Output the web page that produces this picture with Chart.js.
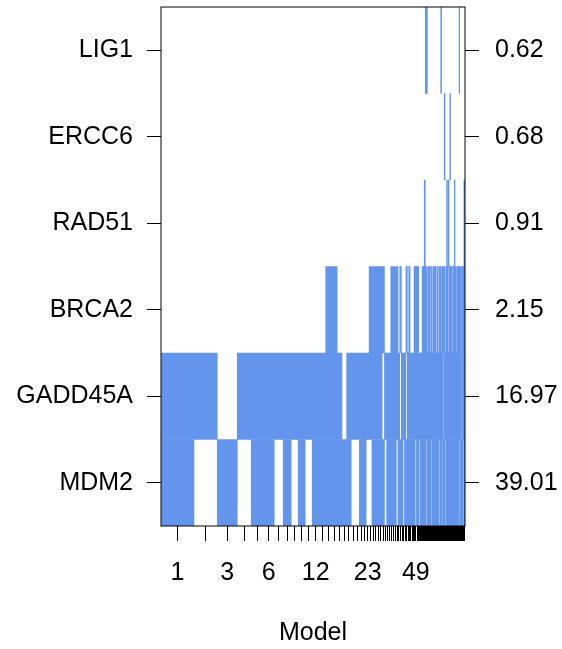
<!DOCTYPE html>
<html>
<head>
<meta charset="utf-8">
<script src="https://cdn.jsdelivr.net/npm/chart.js@4.4.1/dist/chart.umd.min.js"></script>
<style>
  html, body { margin: 0; padding: 0; background: #fff; }
  #wrap { width: 562px; height: 649px; position: relative; }
</style>
</head>
<body>
<div id="wrap"><canvas id="bmaChart"></canvas></div>
<script>
// variables, top to bottom, and their inclusion probability (%)
const genes = ["LIG1", "ERCC6", "RAD51", "BRCA2", "GADD45A", "MDM2"];
const inclusionPct = ["0.62", "0.68", "0.91", "2.15", "16.97", "39.01"];

// width of each model column (models 1..107, best first)
const modelWeights = [
  33, 23.3, 20, 14, 12, 11, 9, 8, 7, 7,
  7, 7, 6.5, 6, 5.5, 4.8, 4.7, 4.5, 4.5, 3.7,
  3.5, 3.3, 3.0, 2.8, 2.7, 2.6, 2.5, 2.4, 2.3, 2.2,
  2.1, 2.0, 1.9, 1.9, 1.8, 1.7, 1.7, 1.6, 1.6, 1.5,
  1.5, 1.4, 1.4, 1.4, 1.3, 1.3, 1.3, 1.2, 1.2, 1.16,
  1.14, 1.13, 1.11, 1.1, 1.09, 1.07, 1.06, 1.04, 1.03, 1.02,
  1.01, 1.0, 0.99, 0.98, 0.97, 0.96, 0.95, 0.94, 0.93, 0.92,
  0.91, 0.9, 0.89, 0.88, 0.87, 0.86, 0.85, 0.84, 0.83, 0.82,
  0.81, 0.8, 0.79, 0.78, 0.77, 0.76, 0.75, 0.74, 0.73, 0.72,
  0.71, 0.7, 0.69, 0.68, 0.67, 0.66, 0.65, 0.64, 0.63, 0.62,
  0.61, 0.6, 0.59, 0.58, 0.57, 0.56, 0.55
];

// model numbers that get a printed label on the x axis
const shownModelLabels = [1, 3, 6, 12, 23, 49];

// runs of models [first, last] in which each variable is included
const lig1Models = [[58, 59], [74, 74], [98, 98]];
const ercc6Models = [[78, 78], [85, 85]];
const rad51Models = [[57, 57], [81, 81], [83, 83], [91, 91], [106, 107]];
const brca2Models = [[14, 15], [24, 29], [33, 36], [38, 38], [42, 42], [44, 44], [48, 51],
  [55, 59], [61, 62], [64, 64], [66, 68], [70, 70], [72, 73], [75, 78], [80, 82],
  [84, 87], [89, 93], [95, 100], [102, 107]];
const gadd45aModels = [[1, 2], [4, 16], [18, 28], [30, 37], [39, 41], [43, 76], [78, 100], [102, 107]];
const mdm2Models = [[1, 1], [3, 3], [5, 6], [8, 8], [10, 10], [12, 18], [21, 22], [25, 29],
  [31, 35], [37, 39], [41, 48], [50, 51], [53, 58], [60, 63], [65, 71], [73, 74],
  [76, 78], [80, 97], [99, 104], [106, 107]];

const fill = "#6495ED";

const modelStart = [0];
modelWeights.forEach(w => modelStart.push(modelStart[modelStart.length - 1] + w));
const totalWeight = modelStart[modelStart.length - 1];
const modelCenters = modelWeights.map((w, i) => (modelStart[i] + modelStart[i + 1]) / 2);

function cellsFor(gene, runs) {
  return runs.map(([a, b]) => ({ y: gene, x: [modelStart[a - 1], modelStart[b]] }));
}

const runsByGene = {
  LIG1: lig1Models, ERCC6: ercc6Models, RAD51: rad51Models,
  BRCA2: brca2Models, GADD45A: gadd45aModels, MDM2: mdm2Models
};

const datasets = genes.map(g => ({
  label: g,
  data: cellsFor(g, runsByGene[g]),
  backgroundColor: fill,
  borderWidth: 0,
  barPercentage: 1,
  categoryPercentage: 1,
  grouped: false
}));

const boxPlugin = {
  id: "box",
  afterDraw(chart) {
    const { ctx, chartArea: a } = chart;
    ctx.save();
    ctx.strokeStyle = "#000";
    ctx.lineWidth = 1;
    ctx.strokeRect(a.left, a.top, a.right - a.left, a.bottom - a.top);
    ctx.restore();
  }
};

function noPad(s) {
  s.paddingTop = 0; s.paddingBottom = 0;
  s.paddingLeft = 0; s.paddingRight = 0;
}

Chart.defaults.font.family = "'Liberation Sans', Arial, sans-serif";
Chart.defaults.font.size = 25;
Chart.defaults.color = "#000";

new Chart(document.getElementById("bmaChart"), {
  type: "bar",
  data: { datasets },
  options: {
    indexAxis: "y",
    responsive: true,
    maintainAspectRatio: false,
    animation: false,
    layout: { padding: { top: 7, left: 0, right: 0, bottom: 0 } },
    plugins: { legend: { display: false }, tooltip: { enabled: false } },
    scales: {
      x: {
        type: "linear",
        position: "bottom",
        min: 0,
        max: totalWeight,
        afterBuildTicks: s => { s.ticks = modelCenters.map(v => ({ value: v })); },
        afterFit: s => { s.height = 123; noPad(s); },
        ticks: {
          autoSkip: false,
          maxRotation: 0,
          padding: 17,
          callback: (v, i) => shownModelLabels.includes(i + 1) ? String(i + 1) : ""
        },
        grid: { drawOnChartArea: false, drawTicks: true, tickLength: 15, color: "#000", lineWidth: 1 },
        border: { display: false },
        title: { display: true, text: "Model", padding: { top: 0, bottom: 1 } }
      },
      y: {
        type: "category",
        labels: genes,
        offset: true,
        position: "left",
        afterFit: s => { s.width = 161; noPad(s); },
        ticks: { padding: 14 },
        grid: { drawOnChartArea: false, tickLength: 14, color: "#000", offset: false },
        border: { display: false }
      },
      y2: {
        type: "category",
        labels: inclusionPct,
        offset: true,
        position: "right",
        afterFit: s => { s.width = 97; noPad(s); },
        ticks: { padding: 16 },
        grid: { drawOnChartArea: false, tickLength: 14, color: "#000", offset: false },
        border: { display: false }
      }
    }
  },
  plugins: [boxPlugin]
});
</script>
</body>
</html>
